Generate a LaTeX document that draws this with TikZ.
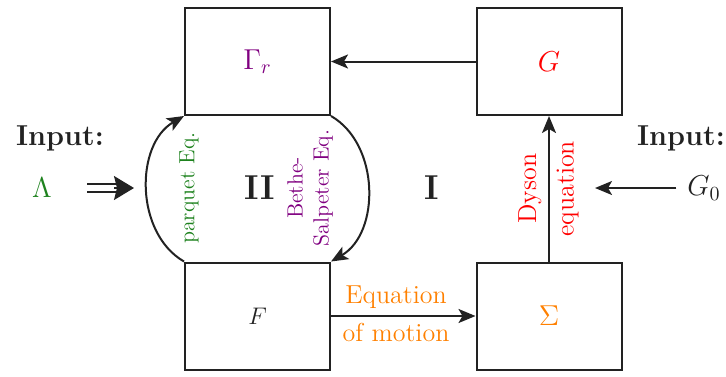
\documentclass[tikz,border=0pt]{standalone}
\usetikzlibrary{arrows.meta}

\definecolor{pqgreen}{RGB}{30,130,30}
\definecolor{bsviolet}{RGB}{128,0,128}
\definecolor{eomorange}{RGB}{255,128,0}
\definecolor{ink}{RGB}{34,34,34}

\begin{document}
\begin{tikzpicture}[
		x=0.5pt, y=0.5pt,
		every node/.style={text=ink},
		block/.style={draw=ink, line width=1pt, minimum width=72.5pt, minimum height=53.5pt, inner sep=0pt},
		flow/.style={draw=ink, line width=1pt, -{Stealth[length=8.5pt, width=7pt, inset=2pt]}},
		inputshaft/.style={draw=ink, double, double distance=3.4pt, line width=0.8pt, shorten >=7pt},
		inputtip/.style={draw=ink, line width=0.8pt, -{Stealth[length=10pt, width=12pt, inset=1.5pt]}},
		eqlabel/.style={font=\fontsize{11}{13}\selectfont, align=center, rotate=90},
		steplabel/.style={font=\fontsize{13}{15}\selectfont}
		]
		\useasboundingbox (0,0) rectangle (726,376);
		
		% ---------------------------------------------------------
		% Blocks
		% ---------------------------------------------------------
		\node[block] (Gamma) at (257.5, 314.5) {\Large $\color{bsviolet}\Gamma_r$};
		\node[block] (G)     at (549, 314.5)   {\Large $\color{red}G$};
		\node[block] (F)     at (257.5, 60)    {\large $F$};
		\node[block] (Sigma) at (549, 60)      {\Large $\color{eomorange}\Sigma$};
		
		% loop labels
		\node[font=\LARGE\bfseries] (loopII) at (260, 188) {II};
		\node[font=\LARGE\bfseries] (loopI)  at (432, 188) {I};
		
		% ---------------------------------------------------------
		% Loop II: parquet / Bethe-Salpeter
		% ---------------------------------------------------------
		\draw[flow] (F.north west) to[bend left=60] (Gamma.south west);
		\draw[flow] (Gamma.south east) to[bend left=60] (F.north east);
		\node[eqlabel, text=pqgreen] (parquet) at (189, 188) {parquet Eq.};
		\node[eqlabel, text=bsviolet] (bethe) at (310, 188) {Bethe-\\Salpeter Eq.};
		
		% ---------------------------------------------------------
		% Loop I: Dyson / equation of motion
		% ---------------------------------------------------------
		\draw[flow] (G) -- (Gamma);
		\draw[flow] (Sigma) -- (G)
			node[midway, above, sloped, steplabel, text=red] (dyson) {Dyson}
			node[midway, below, sloped, steplabel, text=red] (dysoneq) {equation};
		\draw[flow] (F) -- (Sigma)
			node[pos=0.45, above, steplabel, text=eomorange] (eom) {Equation}
			node[pos=0.45, below, steplabel, text=eomorange] (eomof) {of motion};
		
		% ---------------------------------------------------------
		% Inputs
		% ---------------------------------------------------------
		\node[font=\Large\bfseries] (inLeft) at (60, 238) {Input:};
		\node[font=\Large] (Lambda) at (42, 188) {$\color{pqgreen}\Lambda$};
		\coordinate (LambdaS) at (87, 188);
		\coordinate (LambdaE) at (134, 188);
		\draw[inputshaft] (LambdaS) -- (LambdaE);
		\draw[inputtip] ([xshift=-10pt]LambdaE) -- (LambdaE);
		
		\node[font=\Large\bfseries] (inRight) at (681, 238) {Input:};
		\node[font=\Large] (G0) at (704, 188) {$G_0$};
		\coordinate (G0E) at (595, 188);
		\draw[flow] ([xshift=-2pt]G0.west) -- (G0E);
		
	\end{tikzpicture}
\end{document}
